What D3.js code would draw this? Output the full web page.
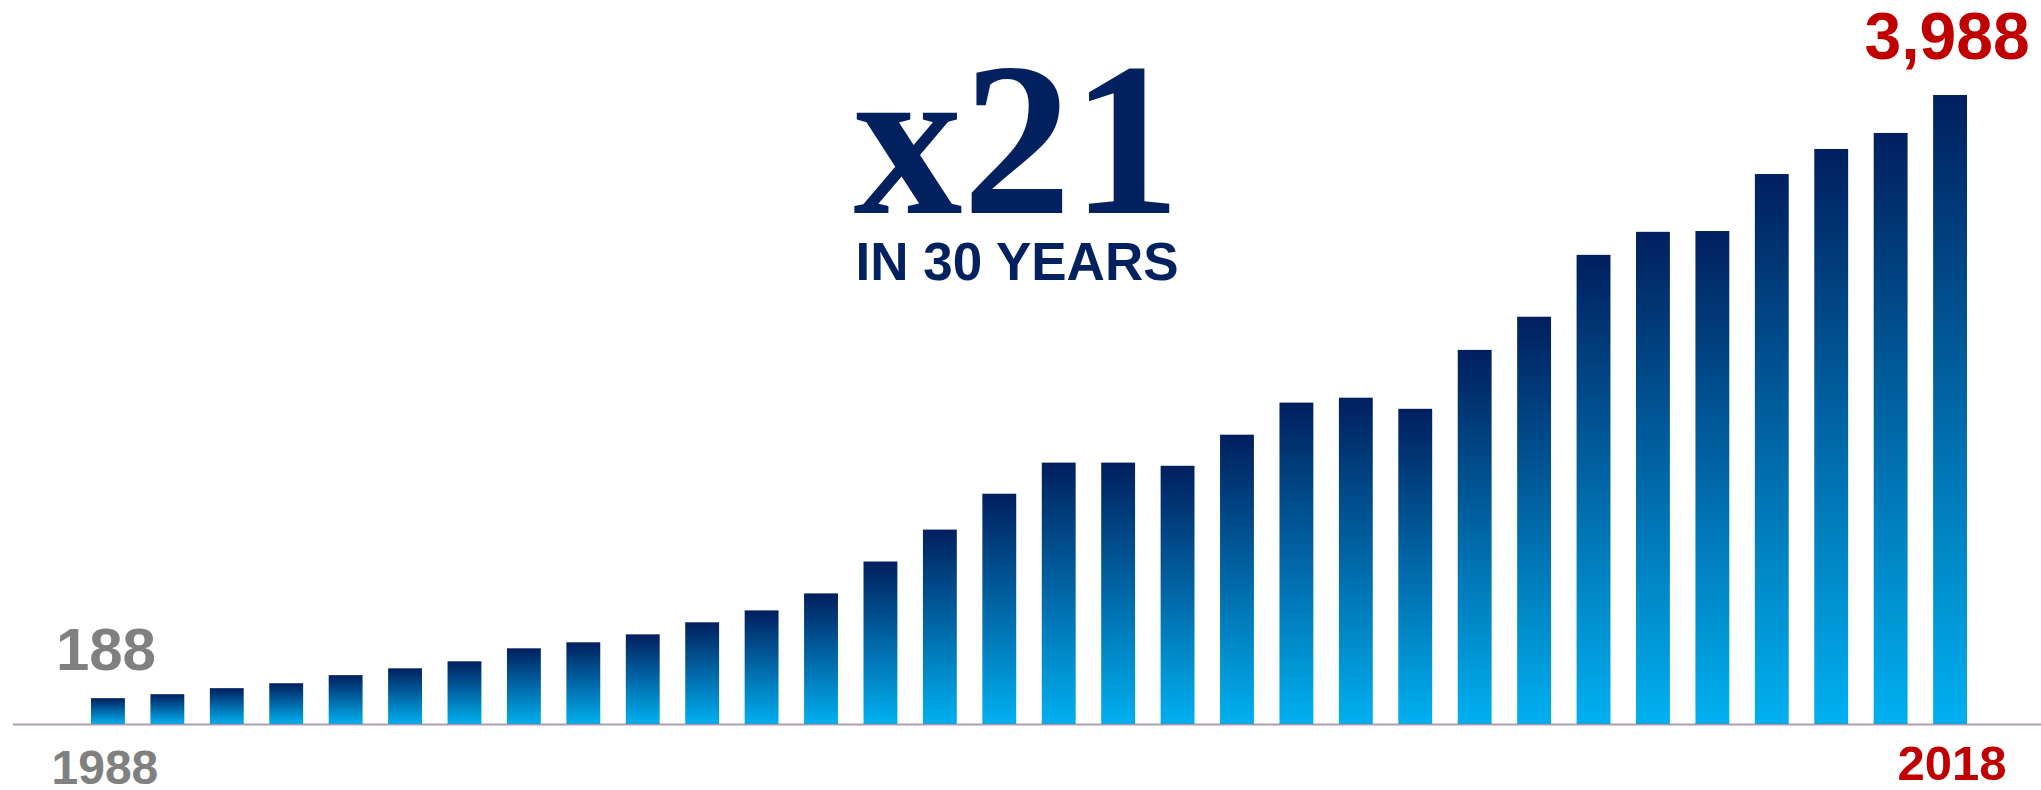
<!DOCTYPE html>
<html>
<head>
<meta charset="utf-8">
<script src="https://cdn.jsdelivr.net/npm/d3@7"></script>
<style>
  body { margin: 0; background: #fff; }
  svg { display: block; }
</style>
</head>
<body>
<svg id="chart" width="2041" height="790"></svg>
<script>
// one bar per period, first labelled 1988 and last 2018
const bars = d3.range(32).map(i => "b" + i);
const values = [
  188, 213, 251, 282, 333, 376, 420, 502, 540, 590, 666, 741, 848, 1049, 1250, 1476,
  1672, 1672, 1652, 1848, 2050, 2081, 2011, 2382, 2591, 2981, 3126, 3131, 3490, 3648, 3749, 3988
];
const edgeLabels = ["1988", "2018"];
const edgeValues = ["188", "3,988"];
const headline = "x21";
const subline = "IN 30 YEARS";

const width = 2041, height = 790;
const baseY = 724;

const svg = d3.select("#chart");

// vertical gradient, applied per bar
const grad = svg.append("defs").append("linearGradient")
  .attr("id", "barGrad")
  .attr("x1", 0).attr("y1", 0).attr("x2", 0).attr("y2", 1);
grad.append("stop").attr("offset", "0%").attr("stop-color", "#011f5e");
grad.append("stop").attr("offset", "100%").attr("stop-color", "#00b0f0");

const x = d3.scaleBand()
  .domain(bars)
  .range([91, 1967])
  .paddingInner(0.43)
  .paddingOuter(0);

const y = d3.scaleLinear()
  .domain([0, d3.max(values)])
  .range([baseY + 4, 95]);

const data = bars.map((b, i) => ({ key: b, value: values[i] }));

svg.append("g")
  .selectAll("rect")
  .data(data)
  .enter()
  .append("rect")
  .attr("x", d => x(d.key))
  .attr("width", x.bandwidth())
  .attr("y", d => y(d.value))
  .attr("height", d => baseY - y(d.value))
  .attr("fill", "url(#barGrad)");

// baseline, a little see-through over the bars
svg.append("line")
  .attr("x1", 13).attr("x2", width)
  .attr("y1", baseY + 0.5).attr("y2", baseY + 0.5)
  .attr("stroke", "#7f6a86")
  .attr("stroke-opacity", 0.65)
  .attr("stroke-width", 2);

const first = data[0], last = data[data.length - 1];
const cx = d => x(d.key) + x.bandwidth() / 2;

const label = (txt, xPos, yPos, size, color) =>
  svg.append("text")
    .attr("x", xPos).attr("y", yPos)
    .attr("text-anchor", "middle")
    .attr("font-family", "'Liberation Sans', Arial, sans-serif")
    .attr("font-weight", "bold")
    .attr("font-size", size + "px")
    .attr("fill", color)
    .text(txt);

// value labels above the first and last bars
label(edgeValues[0], cx(first) - 2, y(first.value) - 28, 60, "#808080");
label(edgeValues[1], cx(last) - 3, 59, 66, "#c00000");

// year labels under the axis
label(edgeLabels[0], cx(first) - 3, 784, 48, "#808080");
label(edgeLabels[1], cx(last) + 2, 780, 49, "#c00000");

// headline
svg.append("text")
  .attr("x", 1017).attr("y", 213)
  .attr("text-anchor", "middle")
  .attr("font-family", "'Liberation Serif', 'Times New Roman', serif")
  .attr("font-weight", "bold")
  .attr("font-size", "218px")
  .attr("fill", "#03215f")
  .text(headline);

label(subline, 1017, 280, 53, "#03215f");
</script>
</body>
</html>
